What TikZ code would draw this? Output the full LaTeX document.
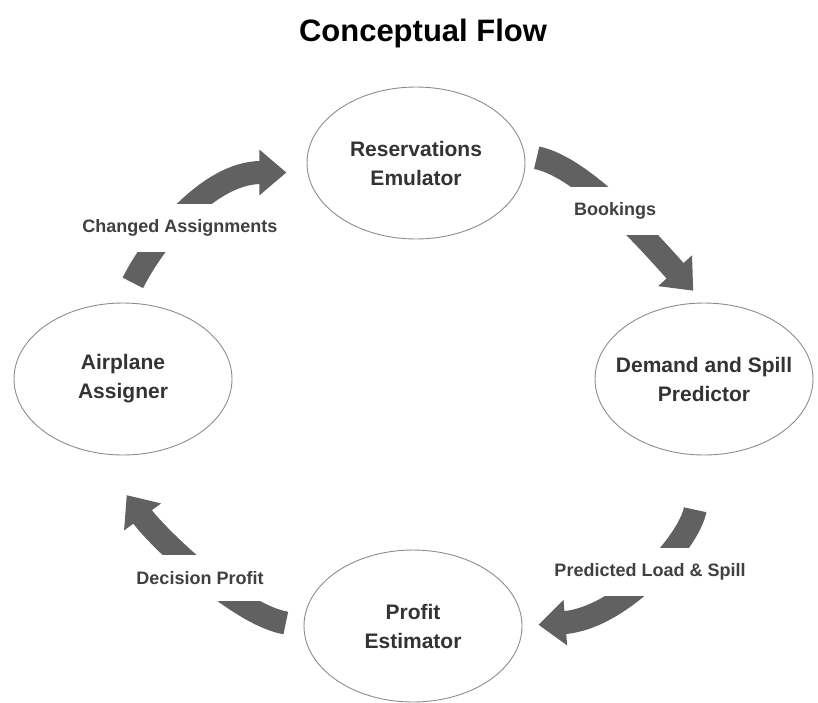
\documentclass[tikz,border=0pt]{standalone}
\usepackage{fontspec}
\setmainfont{Liberation Sans}
\usetikzlibrary{shapes.geometric,arrows.meta}

\begin{document}
\begin{tikzpicture}[
    x=1pt, y=-1pt,
    stage/.style={ellipse, draw=black!45, line width=0.9pt, minimum width=218pt, minimum height=152pt,
        inner xsep=-20pt, inner ysep=0pt, align=center, text=black!80, font=\fontsize{21}{29}\selectfont\bfseries},
    flowtag/.style={fill=white, inner xsep=4pt, inner ysep=16pt, text=black!75, font=\fontsize{18}{22}\selectfont\bfseries},
    flow/.style={draw=black!62, line width=23pt, -{Triangle[length=27pt,width=44pt]}},
]
\useasboundingbox (0,0) rectangle (818,702);

% Title
\node (title) at (423,33) {\fontsize{31}{34}\selectfont\bfseries Conceptual Flow};

% Stages of the cycle
\node[stage] (resv) at (416,163) {Reservations\\Emulator};
\node[stage] (dsp)  at (704,379) {Demand and Spill\\Predictor};
\node[stage] (prof) at (413,626) {Profit\\Estimator};
\node[stage] (asgn) at (123,379) {Airplane\\Assigner};

% Big arrows around the cycle
\draw[flow, shorten <=12pt, shorten >=16pt] (resv.4) .. controls +(60,12) and +(-50,-55) .. (dsp.north);
\draw[flow, shorten <=55pt, shorten >=16pt] (dsp.south) .. controls +(-14,85) and +(100,-8) .. (prof.east);
\draw[flow, shorten <=18pt, shorten >=52pt] (prof.west) .. controls +(-65,-11) and +(62,85) .. (asgn.-110);
\draw[flow, shorten <=22pt, shorten >=21pt] (asgn.north) .. controls +(30,-60) and +(-100,0) .. (resv.185);

% Labels cut the arrows in two
\node[flowtag] (book) at (615,211) {Bookings};
\node[flowtag] (load) at (650,572) {Predicted Load \& Spill};
\node[flowtag] (dprof) at (200,578) {Decision Profit};
\node[flowtag] (chg) at (180,228) {Changed Assignments};

\end{tikzpicture}
\end{document}
